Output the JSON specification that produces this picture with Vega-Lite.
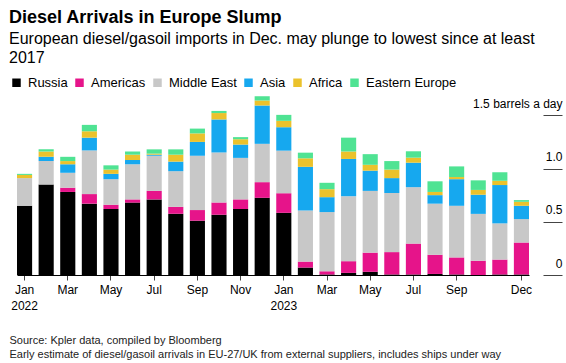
{
  "$schema": "https://vega.github.io/schema/vega-lite/v6.json",
  "autosize": {"type": "none"},
  "width": 512,
  "height": 181,
  "padding": {"left": 17, "top": 94, "right": 37, "bottom": 88},
  "background": "white",
  "config": {
    "font": "Liberation Sans",
    "view": {"stroke": null}
  },
  "title": {
    "text": "Diesel Arrivals in Europe Slump",
    "subtitle": ["European diesel/gasoil imports in Dec. may plunge to lowest since at least", "2017"],
    "anchor": "start",
    "frame": "group",
    "dx": -8,
    "offset": 10,
    "fontSize": 18,
    "fontWeight": "bold",
    "color": "#000000",
    "subtitleFontSize": 16,
    "subtitleColor": "#000000",
    "subtitleLineHeight": 19.5,
    "subtitlePadding": 4
  },
  "data": {
    "values": [
      {"month": "2022-01", "Russia": 0.65, "Americas": 0.0, "Middle East": 0.26, "Asia": 0.0, "Africa": 0.03, "Eastern Europe": 0.01},
      {"month": "2022-02", "Russia": 0.85, "Americas": 0.0, "Middle East": 0.22, "Asia": 0.04, "Africa": 0.05, "Eastern Europe": 0.02},
      {"month": "2022-03", "Russia": 0.78, "Americas": 0.04, "Middle East": 0.14, "Asia": 0.08, "Africa": 0.03, "Eastern Europe": 0.04},
      {"month": "2022-04", "Russia": 0.67, "Americas": 0.09, "Middle East": 0.41, "Asia": 0.12, "Africa": 0.06, "Eastern Europe": 0.06},
      {"month": "2022-05", "Russia": 0.62, "Americas": 0.04, "Middle East": 0.24, "Asia": 0.05, "Africa": 0.04, "Eastern Europe": 0.04},
      {"month": "2022-06", "Russia": 0.68, "Americas": 0.03, "Middle East": 0.33, "Asia": 0.04, "Africa": 0.05, "Eastern Europe": 0.03},
      {"month": "2022-07", "Russia": 0.71, "Americas": 0.08, "Middle East": 0.33, "Asia": 0.01, "Africa": 0.01, "Eastern Europe": 0.04},
      {"month": "2022-08", "Russia": 0.575, "Americas": 0.065, "Middle East": 0.335, "Asia": 0.09, "Africa": 0.065, "Eastern Europe": 0.05},
      {"month": "2022-09", "Russia": 0.51, "Americas": 0.1, "Middle East": 0.51, "Asia": 0.13, "Africa": 0.08, "Eastern Europe": 0.045},
      {"month": "2022-10", "Russia": 0.566, "Americas": 0.115, "Middle East": 0.47, "Asia": 0.31, "Africa": 0.06, "Eastern Europe": 0.02},
      {"month": "2022-11", "Russia": 0.62, "Americas": 0.09, "Middle East": 0.39, "Asia": 0.125, "Africa": 0.05, "Eastern Europe": 0.02},
      {"month": "2022-12", "Russia": 0.725, "Americas": 0.147, "Middle East": 0.36, "Asia": 0.36, "Africa": 0.047, "Eastern Europe": 0.04},
      {"month": "2023-01", "Russia": 0.584, "Americas": 0.184, "Middle East": 0.4, "Asia": 0.22, "Africa": 0.06, "Eastern Europe": 0.056},
      {"month": "2023-02", "Russia": 0.07, "Americas": 0.056, "Middle East": 0.48, "Asia": 0.41, "Africa": 0.08, "Eastern Europe": 0.053},
      {"month": "2023-03", "Russia": 0.005, "Americas": 0.03, "Middle East": 0.556, "Asia": 0.14, "Africa": 0.075, "Eastern Europe": 0.06},
      {"month": "2023-04", "Russia": 0.02, "Americas": 0.11, "Middle East": 0.61, "Asia": 0.35, "Africa": 0.07, "Eastern Europe": 0.13},
      {"month": "2023-05", "Russia": 0.03, "Americas": 0.18, "Middle East": 0.58, "Asia": 0.19, "Africa": 0.055, "Eastern Europe": 0.1},
      {"month": "2023-06", "Russia": 0.005, "Americas": 0.21, "Middle East": 0.555, "Asia": 0.14, "Africa": 0.08, "Eastern Europe": 0.08},
      {"month": "2023-07", "Russia": 0.005, "Americas": 0.29, "Middle East": 0.53, "Asia": 0.23, "Africa": 0.047, "Eastern Europe": 0.06},
      {"month": "2023-08", "Russia": 0.01, "Americas": 0.18, "Middle East": 0.48, "Asia": 0.08, "Africa": 0.03, "Eastern Europe": 0.1},
      {"month": "2023-09", "Russia": 0.005, "Americas": 0.16, "Middle East": 0.485, "Asia": 0.25, "Africa": 0.02, "Eastern Europe": 0.1},
      {"month": "2023-10", "Russia": 0.0, "Americas": 0.134, "Middle East": 0.44, "Asia": 0.18, "Africa": 0.045, "Eastern Europe": 0.09},
      {"month": "2023-11", "Russia": 0.005, "Americas": 0.14, "Middle East": 0.34, "Asia": 0.36, "Africa": 0.04, "Eastern Europe": 0.08},
      {"month": "2023-12", "Russia": 0.005, "Americas": 0.3, "Middle East": 0.22, "Asia": 0.125, "Africa": 0.0375, "Eastern Europe": 0.016}
    ]
  },
  "transform": [
    {"fold": ["Russia", "Americas", "Middle East", "Asia", "Africa", "Eastern Europe"], "as": ["region", "value"]},
    {"calculate": "indexof(['Russia','Americas','Middle East','Asia','Africa','Eastern Europe'], datum.region)", "as": "stackOrder"}
  ],
  "mark": {"type": "bar", "strokeWidth": 0},
  "encoding": {
    "x": {
      "field": "month",
      "type": "ordinal",
      "scale": {"paddingInner": 0.3, "paddingOuter": 0},
      "axis": {
        "values": ["2022-01", "2022-03", "2022-05", "2022-07", "2022-09", "2022-11", "2023-01", "2023-03", "2023-05", "2023-07", "2023-09", "2023-12"],
        "labelExpr": "substring(datum.value,5,7)=='01' ? [['Jan','Feb','Mar','Apr','May','Jun','Jul','Aug','Sep','Oct','Nov','Dec'][toNumber(substring(datum.value,5,7))-1], substring(datum.value,0,4)] : ['Jan','Feb','Mar','Apr','May','Jun','Jul','Aug','Sep','Oct','Nov','Dec'][toNumber(substring(datum.value,5,7))-1]",
        "labelAngle": 0,
        "labelFontSize": 12,
        "labelColor": "#000000",
        "labelLineHeight": 16,
        "labelPadding": 4,
        "tickSize": 5,
        "tickColor": "#444444",
        "domainColor": "#000000",
        "grid": false,
        "title": ["Source: Kpler data, compiled by Bloomberg", "Early estimate of diesel/gasoil arrivals in EU-27/UK from external suppliers, includes ships under way"],
        "titleFontSize": 11,
        "titleFontWeight": "normal",
        "titleColor": "#222222",
        "titleAnchor": "start",
        "titleAlign": "left",
        "titleBaseline": "alphabetic",
        "titleLineHeight": 14,
        "titleX": -8,
        "titleY": 68
      }
    },
    "y": {
      "field": "value",
      "type": "quantitative",
      "stack": "zero",
      "scale": {"domain": [0, 1.7], "nice": false},
      "axis": {
        "orient": "right",
        "values": [0, 0.5, 1, 1.5],
        "labelExpr": "datum.value == 1.5 ? '1.5 barrels a day' : (datum.value == 0 ? '0' : format(datum.value, '.1f'))",
        "offset": 14,
        "domain": false,
        "grid": false,
        "tickSize": 19,
        "tickColor": "#444444",
        "labelAlign": "right",
        "labelBaseline": "alphabetic",
        "labelOffset": -8,
        "labelPadding": 0,
        "labelFlush": false,
        "labelOverlap": false,
        "labelFontSize": 12,
        "labelColor": "#000000",
        "title": null
      }
    },
    "order": {"field": "stackOrder", "type": "quantitative", "sort": "ascending"},
    "color": {
      "field": "region",
      "type": "nominal",
      "sort": ["Russia", "Americas", "Middle East", "Asia", "Africa", "Eastern Europe"],
      "scale": {"range": ["#000000", "#e6148a", "#c8c8c8", "#16a8ef", "#ebc22c", "#4fe393"]},
      "legend": {
        "orient": "none",
        "direction": "horizontal",
        "legendX": -7,
        "legendY": -18,
        "title": null,
        "padding": 0,
        "symbolType": "square",
        "symbolSize": 72,
        "symbolStrokeWidth": 0,
        "symbolOpacity": 1,
        "labelFontSize": 13,
        "labelColor": "#000000",
        "labelOffset": 5,
        "columnPadding": 5
      }
    }
  }
}
